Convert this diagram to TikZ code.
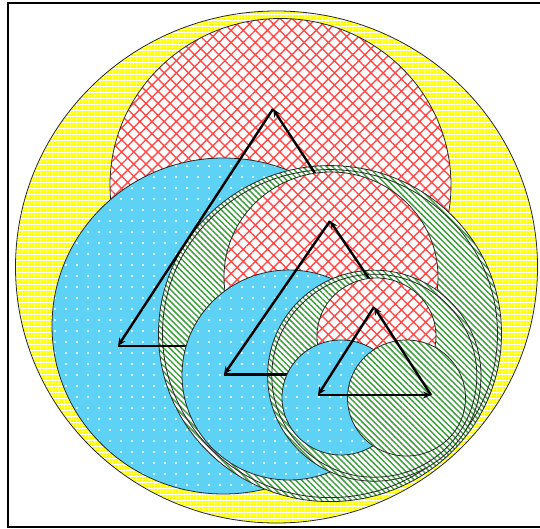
\documentclass[tikz,border=0pt]{standalone}
\usepackage{xcolor}
\definecolor{sunyellow}{HTML}{FFFF00}
\definecolor{hatchred}{HTML}{FF4A4A}
\definecolor{skyfill}{HTML}{5ED2F5}
\definecolor{hatchgreen}{HTML}{449F44}
\usetikzlibrary{patterns.meta,arrows.meta}

\begin{document}
\begin{tikzpicture}[x=0.5pt,y=-0.5pt,
  rim/.style={draw=black!85,line width=0.4pt},
  outer/.style={rim,preaction={fill=white},
                pattern={Lines[angle=0,distance=1.5pt,line width=1.05pt]},
                pattern color=sunyellow},
  topdisc/.style={rim,preaction={fill=white},
                  pattern={Hatch[angle=45,distance=4.3pt,line width=0.7pt]},
                  pattern color=hatchred},
  leftdisc/.style={rim,preaction={fill=skyfill},
                   pattern={Dots[distance=5.5pt,radius=0.6pt]},
                   pattern color=white},
  rightdisc/.style={rim,preaction={fill=white},
                    pattern={Lines[angle=-45,distance=2.1pt,line width=0.75pt]},
                    pattern color=hatchgreen},
  arr/.style={-{Stealth[length=4pt,width=3.5pt]},line width=1.2pt}
]
\useasboundingbox (0,0) rectangle (540,529);

% Ecken der Dreiecke
\coordinate (a1) at (118,346);
\coordinate (b1) at (428,346);
\coordinate (c1) at (273,109);
\coordinate (a2) at (224,374.5);
\coordinate (b2) at (434,374.5);
\coordinate (c2) at (330,221);
\coordinate (a3) at (318,395);
\coordinate (b3) at (431,395);
\coordinate (c3) at (374,307);

% Rahmen
\draw[line width=1pt] (7.5,3) rectangle (570,527);

% Stufe 1
\path[outer] (276.5,267) ellipse [x radius=261, y radius=256];
\path[topdisc] (280.5,185) ellipse [x radius=170.5, y radius=166.5];
\path[leftdisc] (223.5,326) ellipse [x radius=171.5, y radius=168];
\path[rightdisc] (330,333.6) ellipse [x radius=171.5, y radius=168];
\path[rightdisc] (330,333.6) ellipse [x radius=167.5, y radius=164];
\draw[arr] (a1) -- (b1);
\draw[arr] (b1) -- (c1);
\draw[arr] (c1) -- (a1);

% Stufe 2
\path[topdisc] (331,277) ellipse [x radius=107, y radius=105];
\path[leftdisc] (289,375) ellipse [x radius=107, y radius=105];
\path[rightdisc] (374.3,375.7) ellipse [x radius=106.7, y radius=105.5];
\path[rightdisc] (374.3,375.7) ellipse [x radius=102.5, y radius=101.5];
\draw[arr] (a2) -- (b2);
\draw[arr] (b2) -- (c2);
\draw[arr] (c2) -- (a2);

% Stufe 3
\path[topdisc] (376.5,336) ellipse [x radius=59.5, y radius=58];
\path[leftdisc] (341,397.5) ellipse [x radius=59, y radius=57.5];
\path[rightdisc] (406.5,398) ellipse [x radius=59, y radius=58];
\draw[arr] (a3) -- (b3);
\draw[arr] (b3) -- (c3);
\draw[arr] (c3) -- (a3);

\end{tikzpicture}
\end{document}
